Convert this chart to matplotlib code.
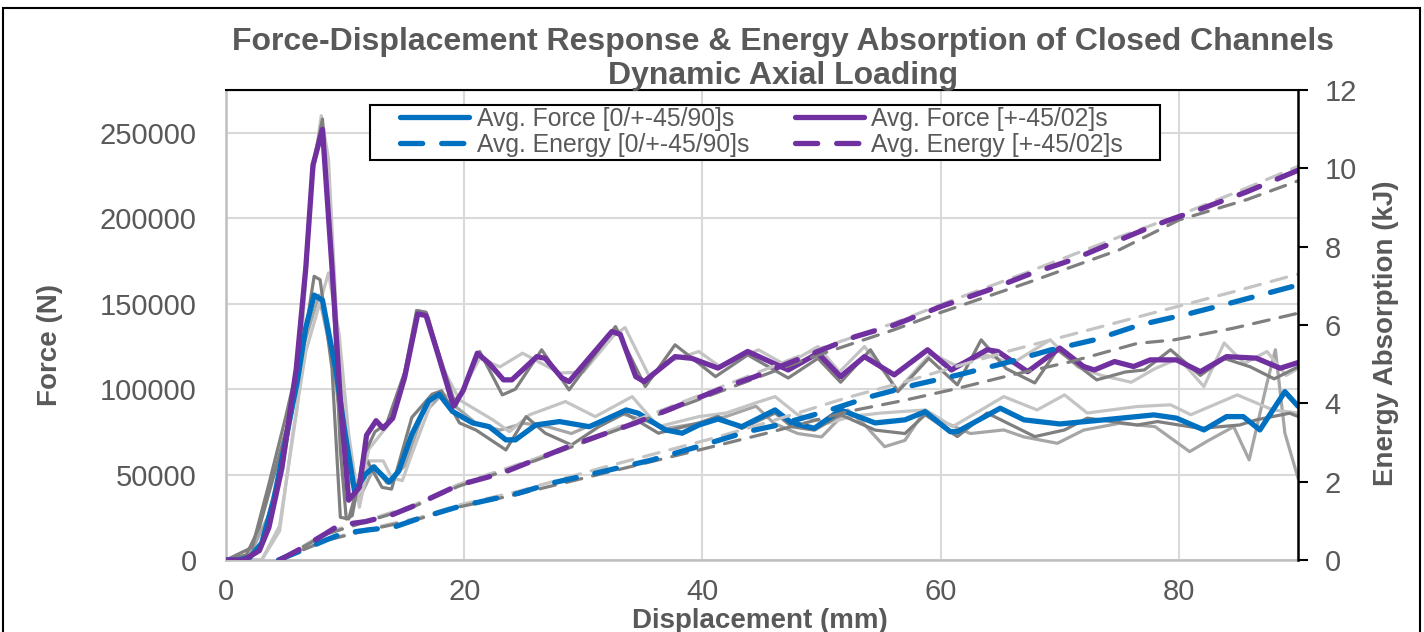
import matplotlib
matplotlib.use("Agg")
import matplotlib.pyplot as plt
from matplotlib.patches import Rectangle

plt.rcParams['font.family'] = ['Liberation Sans', 'DejaVu Sans']

# --- data ---
# averaged force, [0/+-45/90]s laminate (blue)
blue_force_x = [0, 1.0, 2.0, 3.0, 4.0, 5.0, 6.0, 6.7, 7.4, 8.1, 9.2, 10.0, 10.8, 11.7, 12.4, 13.7, 14.5,
                15.6, 17.0, 17.9, 19.0, 20.7, 22.1, 23.5, 24.3, 26.0, 28.0, 30.5, 32.1, 33.6, 34.6, 36.9,
                38.3, 39.7, 41.3, 43.3, 46.1, 47.5, 49.4, 51.6, 54.5, 57.0, 58.7, 60.8, 61.4, 65.0, 67.0,
                70.0, 73.7, 77.9, 79.8, 82.1, 84.0, 85.4, 86.8, 88.9, 90.0]
blue_force = [0, 0, 1500, 10000, 35000, 70000, 105000, 136000, 155000, 152000, 112000, 74000, 40000,
              50000, 54500, 45500, 52000, 73500, 93000, 97000, 87000, 80200, 78000, 70300, 70300, 79000,
              81000, 78000, 83000, 87800, 85900, 76100, 74200, 79000, 82500, 78000, 87800, 80200, 77100,
              87800, 80200, 82000, 86800, 75100, 75100, 88800, 82000, 79600, 82000, 84900, 83000, 76100,
              83900, 83900, 76100, 98500, 90000]

# averaged force, [+-45/02]s laminate (purple)
purple_force_x = [0, 1.5, 2.8, 3.6, 4.7, 5.9, 6.7, 7.3, 8.1, 8.9, 9.6, 10.3, 11.2, 11.8, 12.6, 13.2, 14.0,
                  15.0, 16.1, 16.8, 17.9, 19.1, 19.9, 21.1, 22.1, 23.3, 24.0, 26.1, 26.8, 28.2, 28.8, 32.4,
                  33.1, 34.4, 35.1, 37.7, 39.1, 41.3, 43.8, 47.2, 49.7, 51.6, 53.6, 56.1, 58.9, 60.9, 63.9,
                  64.8, 67.3, 70.0, 72.0, 72.9, 74.6, 76.2, 77.6, 79.8, 81.8, 84.0, 86.5, 88.5, 90.0]
purple_force = [0, 0, 5500, 19000, 54000, 112000, 171000, 231000, 252000, 171000, 93000, 35000, 42500,
                73000, 81500, 77000, 83000, 107000, 144000, 143000, 118000, 90000, 99000, 121000, 115000,
                105400, 105400, 119000, 118000, 106500, 104400, 133700, 132000, 107300, 104400, 119000,
                118000, 112300, 122000, 111200, 121000, 107300, 119000, 108300, 123000, 111200, 123000,
                122000, 110200, 124000, 113200, 111200, 116100, 113200, 117100, 117100, 110200, 119000,
                118100, 112200, 115500]

# individual specimens, [0/+-45/90]s
rep1_x = [0, 1.7, 2.8, 4.2, 5.9, 7.4, 7.9, 8.9, 9.6, 10.3, 11.7, 13.1, 13.9, 15.6, 17.3, 18.1, 19.6, 21.0,
          23.5, 25.2, 26.8, 29.0, 31.3, 33.5, 36.3, 39.7, 41.3, 43.3, 46.1, 47.5, 49.4, 51.6, 54.5, 57.0,
          58.7, 61.4, 63.9, 67.9, 70.4, 72.3, 76.5, 78.2, 81.8, 85.1, 86.5, 89.3, 90.0]
rep1_force = [0, 3000, 19000, 54000, 99000, 166000, 164000, 112000, 25000, 24000, 60000, 42500, 41500,
              83400, 97000, 99000, 80200, 76000, 64400, 83900, 74200, 67300, 78000, 85900, 74200, 80200,
              84000, 77000, 86000, 78000, 76000, 85000, 76000, 74000, 85000, 72200, 86000, 72200, 76100,
              83000, 79000, 81000, 77000, 79000, 82000, 85900, 84000]
rep2_x = [0, 3.0, 4.5, 5.6, 6.7, 8.4, 8.6, 9.5, 10.3, 11.2, 12.0, 13.2, 13.9, 14.8, 15.6, 17.3, 18.1, 19.6,
          22.4, 23.8, 25.5, 28.5, 31.0, 34.1, 36.3, 39.7, 42.0, 44.5, 46.1, 48.0, 50.5, 52.5, 55.0, 58.7,
          61.0, 65.3, 68.1, 70.4, 72.3, 76.5, 79.3, 81.0, 84.9, 87.9, 90.0]
rep2_force = [0, 0, 17000, 73700, 122000, 163000, 168000, 132000, 73700, 30800, 58000, 58000, 48300, 46400,
              62000, 93200, 97100, 93700, 82000, 75100, 85000, 92700, 83900, 95600, 78000, 83900, 86000,
              92000, 95600, 85000, 80000, 84000, 86000, 87800, 78000, 95600, 87800, 96600, 86000, 89800,
              90800, 85000, 96600, 87800, 86000]
rep3_x = [0, 2.0, 3.5, 5.0, 6.5, 7.8, 9.0, 10.2, 11.2, 12.5, 13.5, 15.0, 16.5, 18.0, 19.6, 21.0, 23.0,
          25.0, 27.0, 29.0, 31.0, 33.0, 35.0, 37.0, 39.7, 42.0, 44.5, 46.0, 48.0, 50.0, 52.2, 53.5, 55.3,
          57.0, 58.7, 60.5, 62.5, 65.3, 67.0, 69.8, 72.0, 75.0, 78.0, 80.9, 82.5, 84.6, 85.9, 87.4, 88.1,
          88.9, 90.0]
rep3_force = [0, 3000, 25000, 65000, 125000, 155000, 115000, 50000, 36000, 55000, 45000, 55000, 85000,
              96000, 88000, 80000, 76000, 80000, 78000, 74000, 80000, 86000, 82000, 77000, 80000, 84000,
              90000, 80000, 74000, 72000, 87800, 80000, 66300, 70000, 87800, 80000, 74000, 76100, 72000,
              68300, 76000, 80000, 78000, 63400, 70000, 78000, 58600, 103600, 123000, 74200, 48000]

# individual specimens, [+-45/02]s
rep4_x = [0, 2.2, 3.6, 5.0, 6.1, 7.3, 8.1, 8.9, 9.6, 10.1, 10.6, 11.5, 12.5, 13.5, 15.0, 16.0, 16.8, 18.0,
          19.3, 21.3, 23.2, 24.3, 26.5, 28.8, 32.7, 35.2, 37.7, 41.1, 43.8, 47.2, 49.7, 51.6, 54.1, 56.4,
          59.0, 61.4, 63.4, 65.5, 67.9, 69.8, 73.1, 75.5, 77.1, 79.3, 81.8, 83.8, 86.0, 88.0, 90.0]
rep4_force = [0, 7400, 44400, 83400, 116600, 231600, 258000, 171000, 64000, 24000, 26000, 60000, 75000,
              80000, 110000, 146000, 145000, 118000, 90000, 122000, 96600, 100000, 123000, 99500, 136600,
              101500, 125900, 107300, 120000, 106500, 118000, 104000, 123000, 98500, 118000, 102500,
              128800, 112000, 103600, 123000, 105400, 110000, 111200, 123000, 108000, 118000, 113000,
              106000, 113000]
rep5_x = [0, 3.0, 4.5, 6.0, 7.2, 8.0, 8.6, 9.3, 10.2, 11.0, 12.0, 13.5, 15.0, 16.2, 17.0, 18.0, 19.5,
          21.3, 23.0, 24.9, 28.0, 30.0, 32.5, 33.5, 35.5, 37.5, 39.7, 41.5, 44.7, 47.0, 49.7, 51.5, 53.6,
          56.4, 59.2, 61.2, 63.8, 66.0, 69.2, 71.5, 73.5, 76.0, 78.0, 80.0, 82.1, 83.8, 85.5, 87.4, 89.0,
          90.0]
rep5_force = [0, 0, 20000, 90000, 220000, 260000, 235000, 140000, 55000, 35000, 65000, 78000, 105000,
              146000, 142000, 115000, 95000, 118000, 113000, 121000, 109400, 110000, 131000, 136000,
              108000, 117000, 122000, 113000, 123000, 114000, 124900, 110000, 124900, 99500, 121000,
              114000, 120000, 115000, 128800, 113000, 108000, 104000, 112000, 118000, 101500, 127000,
              115000, 122000, 108000, 112000]

# energy absorption (kJ)
blue_energy_x = [4.4, 6.0, 8.4, 9.8, 12.0, 14.2, 16.2, 19.5, 24.5, 27.3, 31.5, 35.7, 39.9, 43.8, 46.4,
                 50.3, 54.1, 57.8, 61.4, 65.3, 69.2, 72.9, 76.7, 81.0, 84.7, 90.0]
blue_energy = [0, 0.2, 0.51, 0.68, 0.77, 0.85, 1.06, 1.36, 1.70, 1.96, 2.25, 2.55, 2.92, 3.28, 3.45,
               3.79, 4.17, 4.47, 4.72, 5.02, 5.36, 5.62, 6.0, 6.30, 6.59, 7.02]
purple_energy_x = [4.5, 6.1, 8.4, 9.5, 11.7, 13.9, 15.6, 19.5, 23.1, 25.9, 28.7, 31.5, 34.3, 37.1, 39.9,
                   42.4, 44.4, 48.9, 52.8, 56.1, 60.0, 64.0, 67.3, 71.0, 75.0, 78.0, 82.0, 85.7, 90.0]
purple_energy = [0, 0.26, 0.68, 0.89, 0.98, 1.15, 1.36, 1.91, 2.21, 2.55, 2.89, 3.19, 3.49, 3.83, 4.17,
                 4.47, 4.68, 5.23, 5.70, 6.0, 6.47, 6.89, 7.28, 7.66, 8.17, 8.55, 8.98, 9.40, 9.95]
rep_energy_x = [4.4, 8.4, 12.0, 16.2, 19.5, 24.5, 31.5, 40.8, 45.3, 52.2, 57.0, 61.4, 65.9, 70.9, 76.5,
                79.6, 84.6, 90.0]
rep1_energy = [0, 0.5, 0.77, 1.05, 1.35, 1.68, 2.2, 2.89, 3.23, 3.79, 4.08, 4.38, 4.72, 5.06, 5.53, 5.62,
               5.92, 6.3]
rep2_energy = [0, 0.52, 0.8, 1.08, 1.4, 1.75, 2.35, 3.1, 3.5, 4.15, 4.55, 4.95, 5.35, 5.75, 6.2, 6.45,
               6.85, 7.3]
rep4_energy_x = [4.5, 8.4, 11.7, 15.6, 19.5, 25.9, 31.5, 39.9, 48.9, 56.1, 60.0, 67.3, 75.0, 80.0, 85.7,
                 90.0]
rep4_energy = [0, 0.66, 0.97, 1.34, 1.88, 2.53, 3.17, 4.12, 5.15, 5.88, 6.32, 7.08, 7.92, 8.68, 9.2, 9.68]
rep5_energy = [0, 0.7, 1.0, 1.38, 1.93, 2.58, 3.22, 4.22, 5.3, 6.05, 6.52, 7.35, 8.25, 8.8, 9.5, 10.05]

BLUE = '#0070C0'
PURPLE = '#7030A0'
DARK = '#7F7F7F'
MID = '#A6A6A6'
LIGHT = '#C4C4C4'
TXT = '#595959'

W, H = 1424, 632
fig = plt.figure(figsize=(W / 100, H / 100), dpi=100)
ax = fig.add_axes([226 / W, 1 - 560 / H, 1072 / W, 470 / H])
ax2 = ax.twinx()

# grey specimen curves
ax.plot(rep3_x, rep3_force, color=MID, lw=2.3, zorder=2)
ax.plot(rep2_x, rep2_force, color=LIGHT, lw=2.3, zorder=2)
ax.plot(rep1_x, rep1_force, color=DARK, lw=2.3, zorder=2)
ax.plot(rep5_x, rep5_force, color=LIGHT, lw=2.3, zorder=2)
ax.plot(rep4_x, rep4_force, color=DARK, lw=2.3, zorder=2)

# averages
fb, = ax.plot(blue_force_x, blue_force, color=BLUE, lw=3.8, solid_capstyle='round',
              solid_joinstyle='round', zorder=3, label='Avg. Force [0/+-45/90]s')
fp, = ax.plot(purple_force_x, purple_force, color=PURPLE, lw=3.8, solid_capstyle='round',
              solid_joinstyle='round', zorder=3, label='Avg. Force [+-45/02]s')

gdash = (0, (5, 3.5))
ax2.plot(rep_energy_x, rep2_energy, color=LIGHT, lw=2.3, ls=gdash, dash_capstyle='round')
ax2.plot(rep_energy_x, rep1_energy, color=DARK, lw=2.3, ls=gdash, dash_capstyle='round')
ax2.plot(rep4_energy_x, rep5_energy, color=LIGHT, lw=2.3, ls=gdash, dash_capstyle='round')
ax2.plot(rep4_energy_x, rep4_energy, color=DARK, lw=2.3, ls=gdash, dash_capstyle='round')
cdash = (0, (4.2, 3.6))
eb, = ax2.plot(blue_energy_x, blue_energy, color=BLUE, lw=3.8, ls=cdash, dash_capstyle='round',
               label='Avg. Energy [0/+-45/90]s')
ep, = ax2.plot(purple_energy_x, purple_energy, color=PURPLE, lw=3.8, ls=cdash, dash_capstyle='round',
               label='Avg. Energy [+-45/02]s')

# axes
ax.set_xlim(0, 90)
ax.set_ylim(0, 275000)
ax.set_yticks(range(0, 250001, 50000))
ax.set_xticks([0, 20, 40, 60, 80])
ax2.set_ylim(0, 12)
ax2.set_yticks(range(0, 13, 2))

ax.grid(True, color='#D9D9D9', lw=1.5)
ax.set_axisbelow(True)
ax.tick_params(axis='x', length=0, labelsize=21, labelcolor=TXT, pad=13)
ax.tick_params(axis='y', length=0, labelsize=21, labelcolor=TXT, pad=21)
ax2.tick_params(axis='y', direction='out', length=7, width=1.5, color='black',
                labelsize=21, labelcolor=TXT, pad=12)

for s in ['left', 'bottom']:
    ax.spines[s].set_color('#BFBFBF')
    ax.spines[s].set_linewidth(1.8)
ax.spines['top'].set_color('black')
ax.spines['right'].set_visible(False)
for s in ['left', 'bottom']:
    ax2.spines[s].set_visible(False)
ax2.spines['top'].set_color('black')
ax2.spines['top'].set_linewidth(1.5)
ax2.spines['right'].set_color('black')
ax2.spines['right'].set_linewidth(1.8)

# texts
fig.text(783 / W, 1 - 42 / H, 'Force-Displacement Response & Energy Absorption of Closed Channels',
         ha='center', va='center', fontsize=23, fontweight='bold', color=TXT)
fig.text(783 / W, 1 - 76 / H, 'Dynamic Axial Loading', ha='center', va='center',
         fontsize=23, fontweight='bold', color=TXT)
fig.text(760 / W, 1 - 621 / H, 'Displacement (mm)', ha='center', va='center',
         fontsize=20, fontweight='bold', color=TXT)
fig.text(50 / W, 1 - 345 / H, 'Force (N)', ha='center', va='center', rotation=90,
         fontsize=20, fontweight='bold', color=TXT)
fig.text(1386 / W, 1 - 333 / H, 'Energy Absorption (kJ)', ha='center', va='center', rotation=90,
         fontsize=20, fontweight='bold', color=TXT)

# legend: white box with black edge, entries spread over it
ax2.add_patch(Rectangle((144 / 1072, 400 / 470), 790 / 1072, 55 / 470, transform=ax2.transAxes,
                        facecolor='white', edgecolor='black', lw=1.5, zorder=4))
leg = ax2.legend(handles=[fb, eb, fp, ep], ncol=2, loc='upper left',
                 bbox_to_anchor=(174 / 1072, 453 / 470 - 0.05, 897 / 1072 - 174 / 1072, 0.05),
                 mode='expand', fontsize=17.8, frameon=False, handlelength=2.8, handletextpad=0.3,
                 borderpad=0, labelspacing=0.08, borderaxespad=0)
leg.set_zorder(5)
for t in leg.get_texts():
    t.set_color(TXT)

# outer chart border
fig.patches.append(Rectangle((3 / W, -0.05), 1417 / W, 1.05 - 8 / H, transform=fig.transFigure,
                             fill=False, edgecolor='black', lw=1.5))

fig.savefig('out.png', dpi=100)
